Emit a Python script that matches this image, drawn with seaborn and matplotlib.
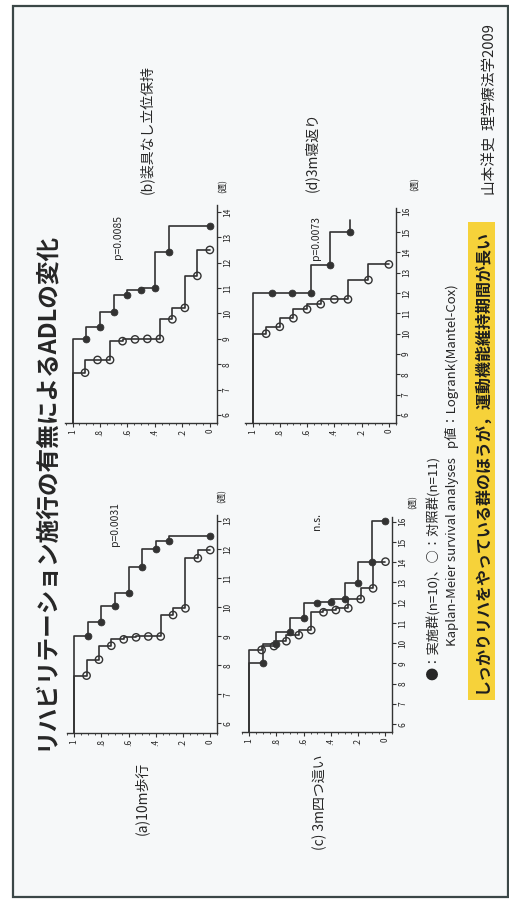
import matplotlib
matplotlib.use("Agg")
import matplotlib.pyplot as plt
import pandas as pd
import seaborn as sns
from matplotlib.patches import Rectangle
from matplotlib.ticker import FixedLocator, MultipleLocator

# ---------------- data ----------------
title = "リハビリテーション施行の有無によるADLの変化"
panel_titles = ["(a)10m歩行", "(b)装具なし立位保持", "(c) 3m四つ這い", "(d)3m寝返り"]
p_labels = ["p=0.0031", "p=0.0085", "n.s.", "p=0.0073"]
week_unit = "(週)"
legend_text = "●：実施群(n=10)、○：対照群(n=11)"
method_text = "Kaplan-Meier survival analyses   p値：Logrank(Mantel-Cox)"
message_text = "しっかりリハをやっている群のほうが，運動機能維持期間が長い"
source_text = "山本洋史  理学療法学2009"

surv_ticks = [0, 0.2, 0.4, 0.6, 0.8, 1.0]
surv_ticklabels = ["0", ".2", ".4", ".6", ".8", "1"]
week_ticks_a = [6, 7, 8, 9, 10, 11, 12, 13]
week_ticks_b = [6, 7, 8, 9, 10, 11, 12, 13, 14]
week_ticks_c = [6, 7, 8, 9, 10, 11, 12, 13, 14, 15, 16]
week_ticks_d = [6, 7, 8, 9, 10, 11, 12, 13, 14, 15, 16]

# survival levels after each event
surv_tx10 = [0.9, 0.8, 0.7, 0.6, 0.5, 0.4, 0.3, 0.0]
surv_ct11 = [0.909, 0.818, 0.727, 0.636, 0.545, 0.455, 0.364, 0.273, 0.182, 0.091, 0.0]

# (a) 10m walking
a_tx_weeks = [9.0, 9.5, 10.05, 10.5, 11.4, 12.0, 12.3, 12.45]
a_tx_surv = surv_tx10
a_ct_weeks = [7.65, 8.2, 8.68, 8.9, 8.97, 9.0, 9.0, 9.74, 9.97, 11.7, 11.98]
a_ct_surv = surv_ct11

# (b) standing without orthosis
b_tx_weeks = [9.0, 9.48, 10.07, 10.72, 10.92, 10.99, 12.43, 13.44]
b_tx_surv = surv_tx10
b_ct_weeks = [7.67, 8.17, 8.17, 8.91, 8.98, 9.0, 9.0, 9.77, 10.22, 11.48, 12.5]
b_ct_surv = surv_ct11

# (c) 3m crawling
c_tx_weeks = [9.04, 9.95, 10.57, 11.23, 12.0, 12.04, 12.17, 12.96, 14.03, 16.05]
c_tx_surv = [0.9, 0.8, 0.7, 0.6, 0.5, 0.4, 0.3, 0.2, 0.1, 0.0]
c_ct_weeks = [9.67, 9.86, 10.1, 10.4, 10.65, 11.53, 11.64, 11.73, 12.18, 12.71, 14.03]
c_ct_surv = surv_ct11

# (d) 3m rolling over (treatment curve censored at the end)
d_tx_weeks = [12.0, 12.0, 12.0, 13.38, 15.0]
d_tx_surv = [0.857, 0.714, 0.571, 0.429, 0.286]
d_tx_last = 15.6
d_ct_weeks = [10.0, 10.34, 10.76, 11.2, 11.45, 11.69, 11.69, 12.64, 13.41]
d_ct_surv = [0.9, 0.8, 0.7, 0.6, 0.5, 0.4, 0.3, 0.15, 0.0]

# ---------------- style ----------------
W, H = 510, 899
sns.set_theme(style="white")
plt.rcParams["font.family"] = ["Noto Sans CJK JP", "DejaVu Sans"]
LINE = "#333333"
INK = "#262626"

fig = plt.figure(figsize=(W / 100, H / 100), dpi=100)
fig.patch.set_facecolor("white")

# slide frame
fig.patches.append(Rectangle((13 / W, 1 - 897 / H), (508 - 13) / W, (897 - 6) / H,
                             transform=fig.transFigure, facecolor="#f6f8f9",
                             edgecolor="#3b4747", linewidth=1.6, zorder=-2))


def px_axes(left, top, right, bottom):
    ax = fig.add_axes([left / W, 1 - bottom / H, (right - left) / W, (bottom - top) / H])
    ax.set_zorder(2)
    return ax


def km_frame(t0, weeks, surv, t_end=None):
    xs, ys = [1.0], [t0]
    prev = 1.0
    for t, s in zip(weeks, surv):
        xs += [prev, s]
        ys += [t, t]
        prev = s
    if t_end is not None:
        xs.append(prev)
        ys.append(t_end)
    return pd.DataFrame({"surv": xs, "week": ys})


def draw_panel(ax, ylim, week_ticks, groups):
    t0 = ylim[0]
    for weeks, surv, filled, t_end in groups:
        path = km_frame(t0, weeks, surv, t_end)
        sns.lineplot(data=path, x="surv", y="week", sort=False, estimator=None,
                     color=LINE, linewidth=1.2, ax=ax, zorder=2)
        if filled:
            sns.scatterplot(x=surv, y=weeks, ax=ax, s=24, color=LINE,
                            edgecolor=LINE, linewidth=0.6, zorder=3)
        else:
            sns.scatterplot(x=surv, y=weeks, ax=ax, s=28, facecolors="none",
                            edgecolor=LINE, linewidth=1.0, zorder=3)
    ax.set_xlim(1.055, -0.05)
    ax.set_ylim(*ylim)
    ax.set_facecolor("none")
    for side in ("top", "left"):
        ax.spines[side].set_visible(False)
    for side in ("bottom", "right"):
        ax.spines[side].set_visible(True)
        ax.spines[side].set_color(LINE)
        ax.spines[side].set_linewidth(1.0)
    ax.yaxis.tick_right()
    ax.xaxis.set_major_locator(FixedLocator(surv_ticks))
    ax.set_xticklabels(surv_ticklabels)
    ax.xaxis.set_minor_locator(MultipleLocator(0.05))
    ax.yaxis.set_major_locator(FixedLocator(week_ticks))
    ax.set_yticklabels([str(v) for v in week_ticks])
    ax.tick_params(axis="x", which="major", bottom=True, direction="out", length=3,
                   width=0.8, color=LINE, labelsize=6, labelrotation=90, pad=1.5,
                   labelcolor=INK)
    ax.tick_params(axis="x", which="minor", bottom=True, direction="out", length=1.5,
                   width=0.6, color=LINE)
    ax.tick_params(axis="y", which="major", right=True, left=False, direction="out",
                   length=3, width=0.8, color=LINE, labelsize=6, labelrotation=90,
                   pad=1.5, labelcolor=INK)
    ax.set_xlabel("")
    ax.set_ylabel("")
    for lab in ax.get_yticklabels():
        lab.set_va("center")


ax_a = px_axes(66.7, 515, 217, 733)
draw_panel(ax_a, (5.67, 13.19), week_ticks_a,
           [(a_ct_weeks, a_ct_surv, False, None), (a_tx_weeks, a_tx_surv, True, None)])
ax_b = px_axes(65, 205, 216.7, 422.7)
draw_panel(ax_b, (5.70, 14.27), week_ticks_b,
           [(b_ct_weeks, b_ct_surv, False, None), (b_tx_weeks, b_tx_surv, True, None)])
ax_c = px_axes(241.7, 516.7, 392.3, 731.7)
draw_panel(ax_c, (5.63, 16.25), week_ticks_c,
           [(c_ct_weeks, c_ct_surv, False, None), (c_tx_weeks, c_tx_surv, True, None)])
ax_d = px_axes(245, 208.3, 395.7, 422.7)
draw_panel(ax_d, (5.62, 16.17), week_ticks_d,
           [(d_ct_weeks, d_ct_surv, False, None), (d_tx_weeks, d_tx_surv, True, d_tx_last)])


def put(x, y, s, size, weight="normal", color=INK, **kw):
    fig.text(x / W, 1 - y / H, s, rotation=90, ha="center", va="center",
             fontsize=size, fontweight=weight, color=color, zorder=4, **kw)


put(45, 491, title, 17, weight="bold")

put(141.5, 798, panel_titles[0], 10)
put(146, 130, panel_titles[1], 10)
put(320, 802, panel_titles[2], 10)
put(312, 152, panel_titles[3], 10)

put(115, 524, p_labels[0], 7.5)
put(118.5, 237, p_labels[1], 7.5)
put(317, 522, p_labels[2], 7.5)
put(315.5, 238, p_labels[3], 7.5)

put(222, 496, week_unit, 6)
put(223, 186, week_unit, 6)
put(413, 502, week_unit, 6)
put(415, 184, week_unit, 6)

put(434, 568, legend_text, 9.5)
put(452, 465, method_text, 9.5)

fig.patches.append(Rectangle((468 / W, 1 - 700 / H), (495 - 468) / W, (700 - 222) / H,
                             transform=fig.transFigure, facecolor="#f6d23a",
                             edgecolor="none", zorder=-1))
put(481.5, 461, message_text, 11.5, weight="bold", color="#1e1e1e")

put(490, 110, source_text, 10.5)

fig.savefig("out.png", dpi=100, facecolor=fig.get_facecolor())
